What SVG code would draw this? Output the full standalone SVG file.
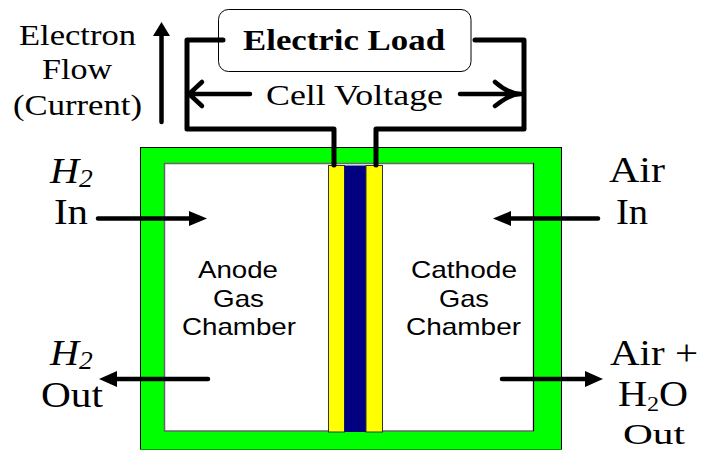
<svg xmlns="http://www.w3.org/2000/svg" width="706" height="450" viewBox="0 0 706 450">
<style>
.t{font-family:"Liberation Serif",serif;font-size:30px;fill:#000}
.b{font-family:"Liberation Serif",serif;font-size:36.500px;fill:#000}
.i{font-style:italic}
.s{font-family:"Liberation Sans",sans-serif;font-size:24px;fill:#000}
.w{fill:none;stroke:#000;stroke-width:5px;stroke-linejoin:round;stroke-linecap:round}
.a{fill:none;stroke:#000;stroke-width:4.500px;stroke-linecap:round}
.h{fill:#000}
</style>
<rect width="706" height="450" fill="#fff"/>
<g id="cell-frame">
<rect x="140.500" y="147.500" width="421" height="302" fill="#00ff00" stroke="#000" stroke-width="1"/>
<path d="M140 449.500H562" stroke="#00a000" stroke-width="1" fill="none"/>
<rect x="164.500" y="163.500" width="369" height="267.500" fill="#fff" stroke="#666" stroke-width="1.500"/>
<path d="M533.500 163V431" stroke="#000" stroke-width="1" fill="none"/>
</g>
<g id="membrane">
<rect x="328.500" y="165.500" width="16" height="266.500" fill="#ffff00" stroke="#333" stroke-width="1"/>
<rect x="344.500" y="165.500" width="21.500" height="266.500" fill="#000080"/>
<rect x="366" y="165.500" width="16.500" height="266.500" fill="#ffff00" stroke="#333" stroke-width="1"/>
</g>
<g id="electric-load">
<rect x="218.500" y="9.500" width="252.500" height="62" rx="10" fill="#fff" stroke="#000" stroke-width="1"/>
<text class="t" x="243" y="50" font-weight="bold" textLength="202" lengthAdjust="spacingAndGlyphs">Electric Load</text>
</g>
<g id="connectors">
<path class="w" d="M223 40H187V129H334V165"/>
<path class="w" d="M475 40H524V129H376V165"/>
<path class="a" d="M250 94H189M202 82L189 94L202 106"/>
<path class="a" d="M460 94H521M495 82C503 89 511 94 521 94C511 94 503 100 495 106"/>
<path class="a" d="M161.500 122V34"/>
<path class="h" d="M161.500 22L170 36H153Z"/>
<path class="a" d="M98 218.500H190"/>
<path class="h" d="M207 218.500L189 211V226Z"/>
<path class="a" d="M598 218.500H510"/>
<path class="h" d="M493 218.500L511 211V226Z"/>
<path class="a" d="M208 379H116"/>
<path class="h" d="M99 379L117 371V387Z"/>
<path class="a" d="M502 379H587"/>
<path class="h" d="M603 379L585 371V387Z"/>
</g>
<g id="labels">
<text class="t" x="19" y="45" textLength="117" lengthAdjust="spacingAndGlyphs">Electron</text>
<text class="t" x="42" y="79" textLength="70" lengthAdjust="spacingAndGlyphs">Flow</text>
<text class="t" x="13" y="115" textLength="129" lengthAdjust="spacingAndGlyphs">(Current)</text>
<text class="t" x="266" y="105" textLength="177" lengthAdjust="spacingAndGlyphs">Cell Voltage</text>
<text class="b i" transform="translate(50 183) scale(1.100 1)">H<tspan font-size="25" dy="4">2</tspan></text>
<text class="b" x="54" y="224" textLength="34" lengthAdjust="spacingAndGlyphs">In</text>
<text class="b i" transform="translate(50 365) scale(1.100 1)">H<tspan font-size="25" dy="4">2</tspan></text>
<text class="b" x="41" y="407" textLength="62" lengthAdjust="spacingAndGlyphs">Out</text>
<text class="b" x="609" y="182" textLength="56" lengthAdjust="spacingAndGlyphs">Air</text>
<text class="b" x="616" y="224" textLength="32" lengthAdjust="spacingAndGlyphs">In</text>
<text class="b" x="610" y="365" textLength="88" lengthAdjust="spacingAndGlyphs">Air +</text>
<text class="b" transform="translate(618 406) scale(1.100 1)">H<tspan font-size="22" dy="5">2</tspan><tspan dy="-5">O</tspan></text>
<text class="b" x="623" y="443.500" style="font-size:30px" textLength="62" lengthAdjust="spacingAndGlyphs">Out</text>
<text class="s" x="198" y="278" textLength="80" lengthAdjust="spacingAndGlyphs">Anode</text>
<text class="s" x="213" y="307" textLength="51" lengthAdjust="spacingAndGlyphs">Gas</text>
<text class="s" x="182" y="335" textLength="114" lengthAdjust="spacingAndGlyphs">Chamber</text>
<text class="s" x="411" y="278" textLength="106" lengthAdjust="spacingAndGlyphs">Cathode</text>
<text class="s" x="439" y="307" textLength="50" lengthAdjust="spacingAndGlyphs">Gas</text>
<text class="s" x="406" y="335" textLength="115" lengthAdjust="spacingAndGlyphs">Chamber</text>
</g>
</svg>
